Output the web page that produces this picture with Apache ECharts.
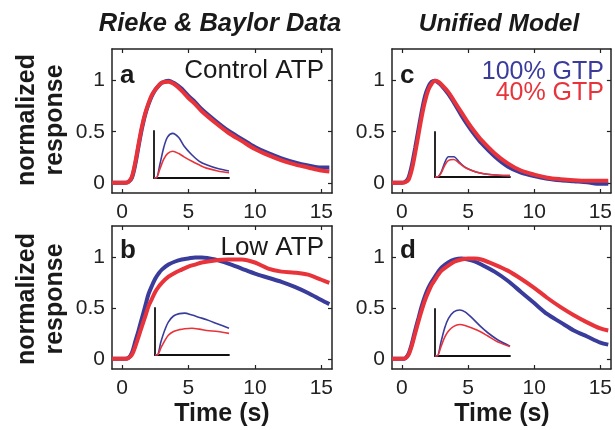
<!DOCTYPE html>
<html>
<head>
<meta charset="utf-8">
<script src="https://cdn.jsdelivr.net/npm/echarts@6/dist/echarts.min.js"></script>
<style>
  html, body { margin: 0; padding: 0; background: #fff; }
  #chart { width: 615px; height: 430px; }
</style>
</head>
<body>
<div id="chart"></div>
<script>
// time axis for main panels (s)
const T = [-0.75, 0, 0.25, 0.5, 0.75, 1, 1.25, 1.5, 1.75, 2, 2.25, 2.5, 2.75, 3, 3.5, 4, 4.5, 5, 5.5, 6, 7, 8, 9, 10, 11, 12, 13, 14, 15, 15.6]

// a: Rieke & Baylor, control ATP
const aBlue = [0, 0, 0, 0.01, 0.05, 0.18, 0.36, 0.53, 0.67, 0.77, 0.85, 0.91, 0.95, 0.98, 1.0, 0.97, 0.92, 0.85, 0.79, 0.72, 0.61, 0.51, 0.43, 0.35, 0.29, 0.24, 0.2, 0.17, 0.15, 0.15]
const aRed = [0, 0, 0, 0.01, 0.06, 0.2, 0.38, 0.55, 0.68, 0.78, 0.86, 0.91, 0.95, 0.98, 0.99, 0.96, 0.9, 0.83, 0.77, 0.7, 0.59, 0.49, 0.41, 0.33, 0.27, 0.22, 0.18, 0.15, 0.12, 0.11]
// b: Rieke & Baylor, low ATP
const bBlue = [0, 0, 0, 0.01, 0.06, 0.17, 0.28, 0.4, 0.52, 0.64, 0.72, 0.79, 0.84, 0.88, 0.93, 0.96, 0.98, 0.99, 1.0, 1.0, 0.98, 0.94, 0.89, 0.84, 0.8, 0.76, 0.71, 0.65, 0.58, 0.54]
const bRed = [0, 0, 0, 0.01, 0.04, 0.12, 0.22, 0.32, 0.42, 0.52, 0.59, 0.66, 0.71, 0.75, 0.81, 0.85, 0.88, 0.91, 0.93, 0.95, 0.97, 0.98, 0.98, 0.95, 0.89, 0.86, 0.85, 0.83, 0.78, 0.75]
// c: model, 100% / 40% GTP
const cBlue = [0, 0, 0.01, 0.05, 0.17, 0.34, 0.52, 0.7, 0.85, 0.94, 0.99, 1.0, 0.98, 0.95, 0.87, 0.77, 0.66, 0.56, 0.47, 0.39, 0.26, 0.16, 0.1, 0.065, 0.04, 0.025, 0.015, 0.005, -0.01, -0.01]
const cRed = [0, 0, 0.005, 0.03, 0.13, 0.29, 0.47, 0.65, 0.8, 0.91, 0.97, 1.0, 0.99, 0.96, 0.89, 0.79, 0.69, 0.59, 0.5, 0.42, 0.29, 0.19, 0.12, 0.08, 0.05, 0.035, 0.025, 0.02, 0.02, 0.02]
// d: model, low ATP
const dBlue = [0, 0, 0.005, 0.05, 0.15, 0.28, 0.4, 0.52, 0.62, 0.7, 0.76, 0.81, 0.86, 0.9, 0.95, 0.98, 0.99, 0.98, 0.96, 0.93, 0.86, 0.77, 0.66, 0.55, 0.44, 0.36, 0.28, 0.22, 0.16, 0.14]
const dRed = [0, 0, 0.005, 0.04, 0.13, 0.25, 0.37, 0.48, 0.58, 0.66, 0.73, 0.78, 0.83, 0.87, 0.92, 0.96, 0.98, 0.99, 0.99, 0.98, 0.93, 0.87, 0.79, 0.7, 0.6, 0.51, 0.43, 0.36, 0.3, 0.28]

// insets (unnormalized responses, arbitrary units)
const IT = [0, 0.3, 0.8, 1.3, 1.8, 2.5, 3.3, 4, 5, 6, 7, 8.5, 10]
const aInBlue = [0, 0, 0.3, 0.65, 0.87, 0.95, 0.86, 0.68, 0.5, 0.36, 0.28, 0.2, 0.15]
const aInRed = [0, 0, 0.2, 0.4, 0.52, 0.57, 0.52, 0.45, 0.36, 0.28, 0.21, 0.15, 0.11]
const bInBlue = [0, 0, 0.28, 0.52, 0.7, 0.83, 0.88, 0.89, 0.85, 0.8, 0.75, 0.66, 0.57]
const bInRed = [0, 0, 0.15, 0.3, 0.42, 0.5, 0.54, 0.56, 0.57, 0.55, 0.52, 0.5, 0.46]
const cInBlue = [0, 0, 0.1, 0.32, 0.45, 0.45, 0.32, 0.22, 0.14, 0.09, 0.06, 0.04, 0.03]
const cInRed = [0, 0, 0.08, 0.26, 0.37, 0.39, 0.3, 0.21, 0.14, 0.09, 0.06, 0.04, 0.03]
const dInBlue = [0, 0, 0.3, 0.6, 0.8, 0.94, 0.98, 0.94, 0.8, 0.64, 0.5, 0.33, 0.21]
const dInRed = [0, 0, 0.2, 0.4, 0.53, 0.63, 0.67, 0.65, 0.59, 0.52, 0.43, 0.29, 0.2]

const xTicks = [0, 5, 10, 15]
const yTicks = [0, 0.5, 1]

const BLUE = '#3a3c9c'
const RED = '#e8333b'
const FONT = '"Liberation Sans", Arial, sans-serif'

const chart = echarts.init(document.getElementById('chart'))

const mainGrids = [
  { left: 112, top: 49, width: 220, height: 144 },
  { left: 112, top: 226, width: 220, height: 143 },
  { left: 392, top: 49, width: 220, height: 144 },
  { left: 392, top: 226, width: 220, height: 143 }
]
const insetGrids = [
  { left: 154, top: 131, width: 75, height: 47 },
  { left: 155, top: 308, width: 74, height: 47 },
  { left: 435, top: 132, width: 75, height: 45 },
  { left: 435, top: 309, width: 75, height: 47 }
]
const mainData = [[aBlue, aRed], [bBlue, bRed], [cBlue, cRed], [dBlue, dRed]]
const insetData = [[aInBlue, aInRed], [bInBlue, bInRed], [cInBlue, cInRed], [dInBlue, dInRed]]

const pairs = (xs, ys) => xs.map((x, i) => [x, ys[i]])

const grid = []
const xAxis = []
const yAxis = []
const series = []

const boxLine = { show: true, onZero: false, lineStyle: { color: '#222', width: 1.5 } }
const inTick = (vals) => ({ show: true, inside: true, length: 4, customValues: vals, lineStyle: { color: '#222', width: 1.2 } })

mainGrids.forEach((g, i) => {
  grid.push(g)
  // bottom + top x axes
  xAxis.push({
    type: 'value', gridIndex: i, position: 'bottom', min: -0.75, max: 15.8,
    axisLine: boxLine, axisTick: inTick(xTicks), splitLine: { show: false },
    axisLabel: { customValues: xTicks, margin: 9, fontSize: 21, color: '#222', fontFamily: FONT }
  })
  xAxis.push({
    type: 'value', gridIndex: i, position: 'top', min: -0.75, max: 15.8,
    axisLine: boxLine, axisTick: inTick(xTicks), splitLine: { show: false }, axisLabel: { show: false }
  })
  // left + right y axes
  yAxis.push({
    type: 'value', gridIndex: i, position: 'left', min: -0.1, max: 1.31,
    axisLine: boxLine, axisTick: inTick(yTicks), splitLine: { show: false },
    axisLabel: { customValues: yTicks, margin: 7, fontSize: 21, color: '#222', fontFamily: FONT }
  })
  yAxis.push({
    type: 'value', gridIndex: i, position: 'right', min: -0.1, max: 1.31,
    axisLine: boxLine, axisTick: inTick(yTicks), splitLine: { show: false }, axisLabel: { show: false }
  })
  const [blue, red] = mainData[i]
  ;[[blue, BLUE], [red, RED]].forEach(([vals, col]) => {
    series.push({
      type: 'line', xAxisIndex: i * 2, yAxisIndex: i * 2, data: pairs(T, vals),
      showSymbol: false, smooth: 0.3, silent: true, z: 3,
      lineStyle: { color: col, width: 4 }
    })
  })
})

insetGrids.forEach((g, j) => {
  const gi = grid.length
  grid.push(g)
  const axBase = {
    type: 'value', gridIndex: gi, axisTick: { show: false }, axisLabel: { show: false },
    splitLine: { show: false }, axisLine: { show: true, onZero: false, lineStyle: { color: '#111', width: 1.8 } }
  }
  xAxis.push(Object.assign({ position: 'bottom', min: 0, max: 10 }, axBase))
  yAxis.push(Object.assign({ position: 'left', min: 0, max: 1 }, axBase))
  const xi = xAxis.length - 1
  const yi = yAxis.length - 1
  const [blue, red] = insetData[j]
  ;[[blue, BLUE], [red, RED]].forEach(([vals, col]) => {
    series.push({
      type: 'line', xAxisIndex: xi, yAxisIndex: yi, data: pairs(IT, vals),
      showSymbol: false, smooth: 0.3, silent: true, z: 4,
      lineStyle: { color: col, width: 1.6 }
    })
  })
})

const txt = (x, y, text, opt) => ({
  type: 'text', x: x, y: y, z: 10,
  style: Object.assign({ text: text, fill: '#1a1a1a', fontFamily: FONT, fontSize: 24 }, opt)
})

const graphic = [
  txt(220, 24, 'Rieke & Baylor Data', { align: 'center', verticalAlign: 'middle', fontWeight: 'bold', fontStyle: 'italic', fontSize: 25.5 }),
  txt(499, 24, 'Unified Model', { align: 'center', verticalAlign: 'middle', fontWeight: 'bold', fontStyle: 'italic', fontSize: 24.5 }),
  txt(222, 414, 'Time (s)', { align: 'center', verticalAlign: 'middle', fontWeight: 'bold', fontSize: 25 }),
  txt(502, 414, 'Time (s)', { align: 'center', verticalAlign: 'middle', fontWeight: 'bold', fontSize: 25 }),
  txt(120, 76, 'a', { align: 'left', verticalAlign: 'middle', fontWeight: 'bold', fontSize: 26 }),
  txt(120, 251, 'b', { align: 'left', verticalAlign: 'middle', fontWeight: 'bold', fontSize: 26 }),
  txt(400, 76, 'c', { align: 'left', verticalAlign: 'middle', fontWeight: 'bold', fontSize: 26 }),
  txt(400, 251, 'd', { align: 'left', verticalAlign: 'middle', fontWeight: 'bold', fontSize: 26 }),
  txt(324, 71, 'Control ATP', { align: 'right', verticalAlign: 'middle', fontSize: 26 }),
  txt(324, 248, 'Low ATP', { align: 'right', verticalAlign: 'middle', fontSize: 26 }),
  txt(604, 72, '100% GTP', { align: 'right', verticalAlign: 'middle', fontSize: 25, fill: BLUE }),
  txt(604, 93, '40% GTP', { align: 'right', verticalAlign: 'middle', fontSize: 25, fill: RED })
]
// rotated y-axis names, two lines per row
;[120, 299].forEach((cy) => {
  graphic.push(Object.assign(txt(0, 0, 'normalized', { align: 'center', verticalAlign: 'middle', fontWeight: 'bold', fontSize: 25 }), { x: 27, y: cy, rotation: Math.PI / 2 }))
  graphic.push(Object.assign(txt(0, 0, 'response', { align: 'center', verticalAlign: 'middle', fontWeight: 'bold', fontSize: 25 }), { x: 55, y: cy, rotation: Math.PI / 2 }))
})

chart.setOption({
  animation: false,
  backgroundColor: '#fff',
  grid: grid,
  xAxis: xAxis,
  yAxis: yAxis,
  series: series,
  graphic: graphic
})
</script>
</body>
</html>
